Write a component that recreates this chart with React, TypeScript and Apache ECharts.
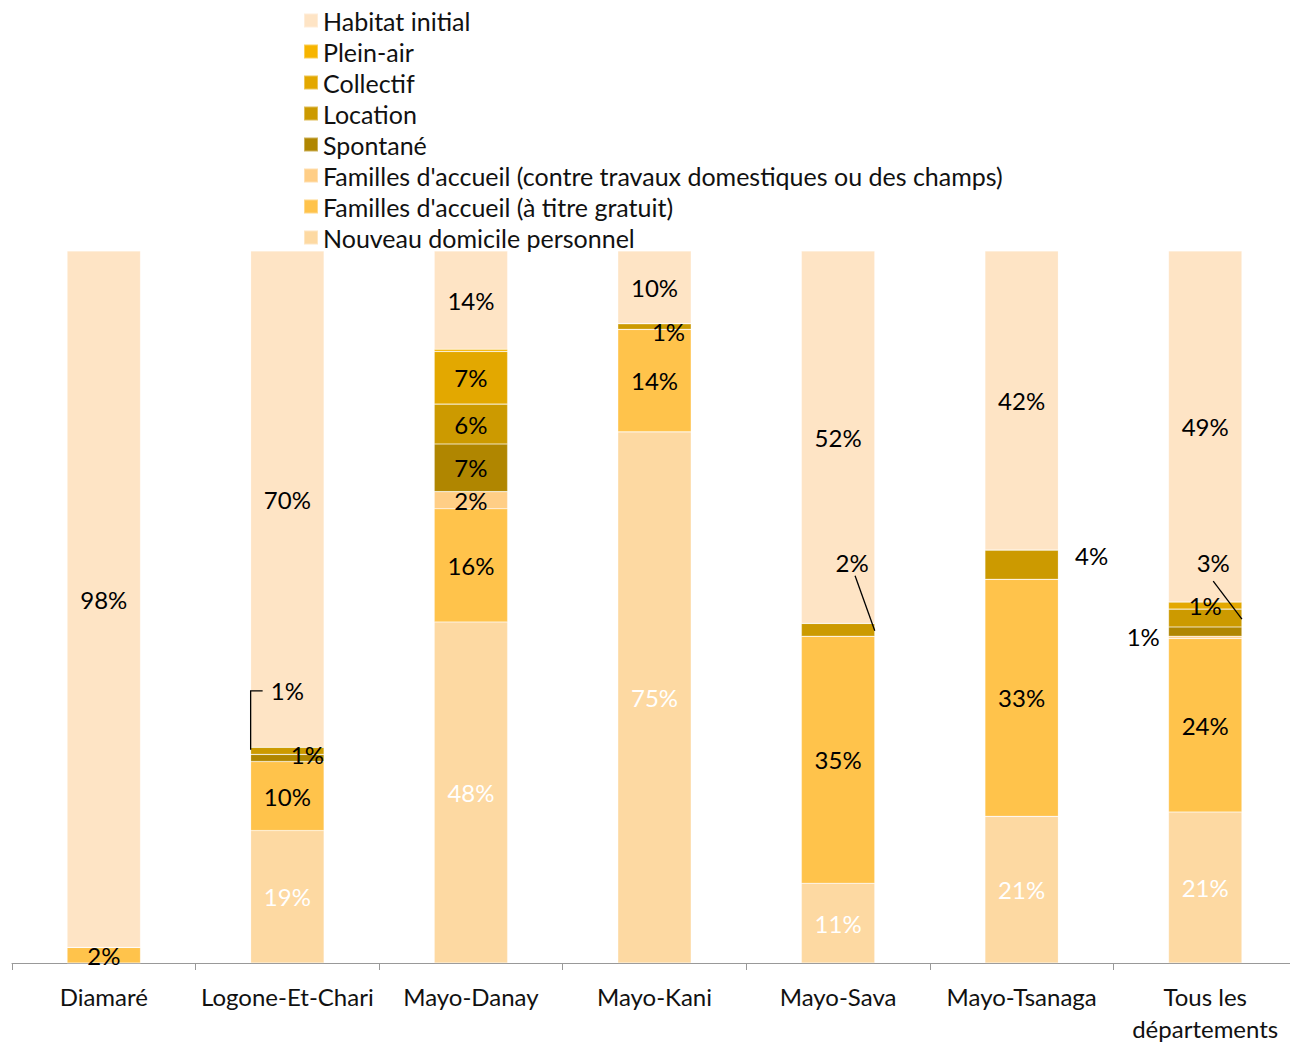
import React, { useEffect, useRef } from "react";
import * as echarts from "echarts";

const categories = [
  "Diamaré",
  "Logone-Et-Chari",
  "Mayo-Danay",
  "Mayo-Kani",
  "Mayo-Sava",
  "Mayo-Tsanaga",
  "Tous les\ndépartements",
];

// stack order: bottom -> top
const nouveauDomicile = [0, 18.6, 47.9, 74.6, 11.2, 20.6, 21.2];
const famillesGratuit = [2.2, 9.7, 15.9, 14.4, 34.7, 33.3, 24.4];
const famillesTravaux = [0, 0, 2.4, 0, 0, 0, 0.3];
const spontane = [0, 1.0, 6.7, 0, 0, 0, 1.3];
const location = [0, 1.0, 5.6, 0.8, 1.8, 4.1, 2.5];
const collectif = [0, 0, 7.4, 0, 0, 0, 1.0];
const pleinAir = [0, 0, 0.3, 0, 0, 0, 0];
const habitatInitial = [97.8, 69.7, 13.8, 10.2, 52.3, 42.0, 49.3];

const seriesDefs = [
  { name: "Nouveau domicile personnel", data: nouveauDomicile, color: "#FDD9A2", labelColor: "#ffffff" },
  { name: "Familles d'accueil (à titre gratuit)", data: famillesGratuit, color: "#FFC34B", labelColor: "#000000" },
  { name: "Familles d'accueil (contre travaux domestiques ou des champs)", data: famillesTravaux, color: "#FFCE86", labelColor: "#000000" },
  { name: "Spontané", data: spontane, color: "#B08600", labelColor: "#000000" },
  { name: "Location", data: location, color: "#CC9A00", labelColor: "#000000" },
  { name: "Collectif", data: collectif, color: "#E3A800", labelColor: "#000000" },
  { name: "Plein-air", data: pleinAir, color: "#F7B500", labelColor: "#000000" },
  { name: "Habitat initial", data: habitatInitial, color: "#FEE4C5", labelColor: "#000000" },
];

const legendOrder = [
  "Habitat initial",
  "Plein-air",
  "Collectif",
  "Location",
  "Spontané",
  "Familles d'accueil (contre travaux domestiques ou des champs)",
  "Familles d'accueil (à titre gratuit)",
  "Nouveau domicile personnel",
];

// label offsets for small segments: [seriesName, categoryIndex, dx, dy]
const labelOffsets: [string, number, number, number][] = [
  ["Spontané", 1, 20, -3],
  ["Location", 1, 0, -60],
  ["Location", 3, 14, 5],
  ["Location", 4, 14, -67],
  ["Location", 5, 70, -9],
  ["Location", 6, 8, -56],
  ["Spontané", 6, -62, 5],
];

const FONT = "Lato";

export default function App() {
  const ref = useRef<HTMLDivElement>(null);
  useEffect(() => {
    document.body.style.margin = "0";
    if (!ref.current) return;
    const chart = echarts.init(ref.current, undefined, { renderer: "svg" });

    const series = seriesDefs.map((s) => ({
      name: s.name,
      type: "bar",
      stack: "total",
      barWidth: "40%",
      itemStyle: { color: s.color, borderColor: "rgba(255,255,255,0.35)", borderWidth: 0.6 },
      label: {
        show: true,
        position: "inside",
        color: s.labelColor,
        fontSize: 24,
        fontFamily: FONT,
        formatter: (p: any) => {
          const r = Math.round(p.value);
          return r > 0 ? r + "%" : "";
        },
      },
      data: s.data.map((v, i) => {
        const off = labelOffsets.find((o) => o[0] === s.name && o[1] === i);
        return off ? { value: v, label: { offset: [off[2], off[3]] } } : v;
      }),
    }));

    chart.setOption({
      animation: false,
      textStyle: { fontFamily: FONT },
      grid: { left: 12, right: -7, top: 251, bottom: 81, outerBoundsMode: "none", containLabel: false },
      legend: {
        data: legendOrder,
        orient: "vertical",
        left: 298,
        top: 3,
        itemWidth: 14,
        itemHeight: 14,
        itemGap: 6,
        icon: "rect",
        textStyle: { fontSize: 25, lineHeight: 22, color: "#111", fontFamily: FONT },
      },
      xAxis: {
        type: "category",
        data: categories,
        axisLine: { lineStyle: { color: "#999", width: 1 } },
        axisTick: { show: true, interval: 0, length: 7, lineStyle: { color: "#999" } },
        axisLabel: { interval: 0, fontSize: 24, color: "#111", margin: 17, lineHeight: 32, fontFamily: FONT },
      },
      yAxis: { type: "value", min: 0, max: 100, show: false, splitLine: { show: false } },
      series,
    });

    // leader lines
    const cum = (idx: number, upto: number) => {
      let s = 0;
      for (let k = 0; k < upto; k++) s += seriesDefs[k].data[idx];
      return s;
    };
    const locIdx = seriesDefs.findIndex((s) => s.name === "Location");
    const p0 = chart.convertToPixel({ gridIndex: 0 }, [0, 0]) as number[];
    const p1 = chart.convertToPixel({ gridIndex: 0 }, [1, 0]) as number[];
    const barW = (p1[0] - p0[0]) * 0.4;
    const bandCenter = (cat: number) => {
      const lo = cum(cat, locIdx);
      const hi = lo + seriesDefs[locIdx].data[cat];
      return chart.convertToPixel({ gridIndex: 0 }, [cat, (lo + hi) / 2]) as number[];
    };
    const lineStyle = { stroke: "#000", lineWidth: 1.3, fill: "none" };
    const graphics: any[] = [];
    {
      const c = bandCenter(1);
      const left = c[0] - barW / 2;
      graphics.push({
        type: "polyline",
        z: 100,
        shape: { points: [[left + 12, c[1] - 60], [left, c[1] - 60], [left, c[1] - 1]] },
        style: lineStyle,
      });
    }
    {
      const c = bandCenter(4);
      const right = c[0] + barW / 2;
      graphics.push({
        type: "line",
        z: 100,
        shape: { x1: c[0] + 17, y1: c[1] - 54, x2: right, y2: c[1] + 1 },
        style: lineStyle,
      });
    }
    {
      const c = bandCenter(6);
      const right = c[0] + barW / 2;
      graphics.push({
        type: "line",
        z: 100,
        shape: { x1: c[0] + 8, y1: c[1] - 37, x2: right, y2: c[1] + 1 },
        style: lineStyle,
      });
    }
    chart.setOption({ graphic: graphics });

    return () => chart.dispose();
  }, []);
  return <div ref={ref} style={{ width: 1290, height: 1044 }} />;
}
